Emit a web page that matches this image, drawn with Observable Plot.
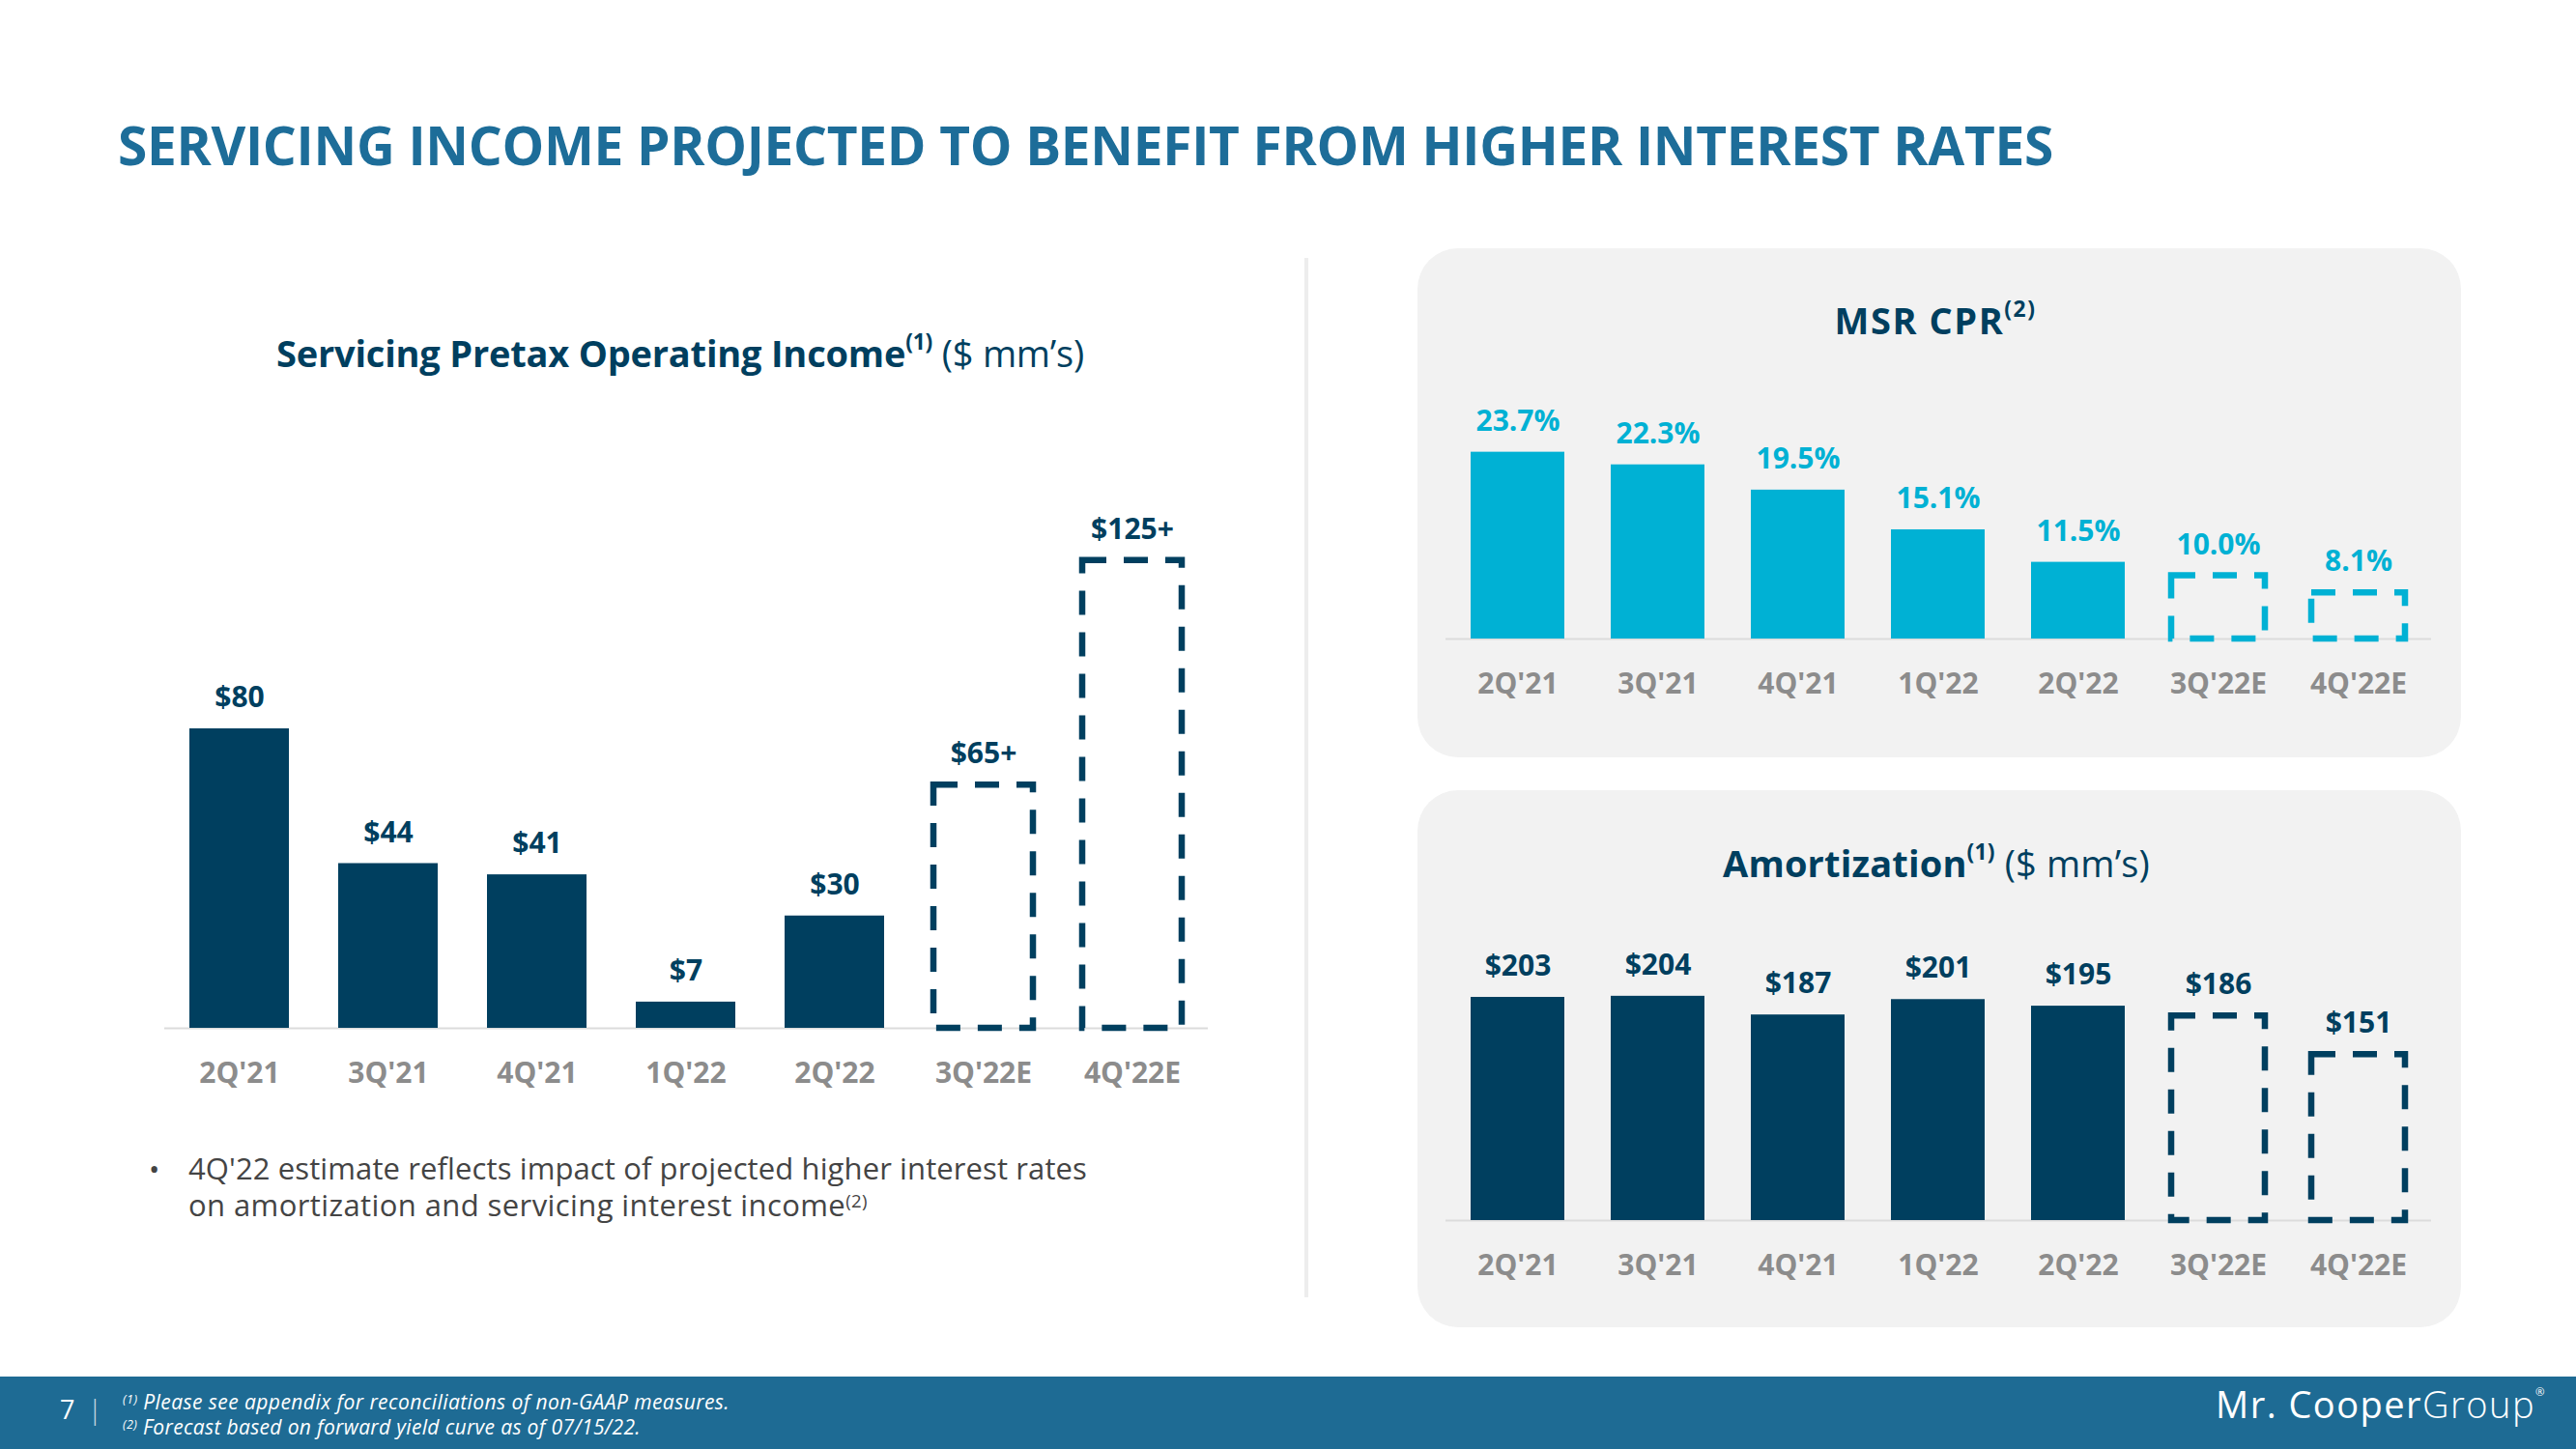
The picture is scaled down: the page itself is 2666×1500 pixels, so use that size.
<!DOCTYPE html>
<html>
<head>
<meta charset="utf-8">
<script src="https://cdn.jsdelivr.net/npm/d3@7"></script>
<script src="https://cdn.jsdelivr.net/npm/@observablehq/plot@0.6"></script>
<style>
  html, body { margin: 0; padding: 0; background: #fff; }
  #root { position: relative; width: 2666px; height: 1500px; overflow: hidden; font-family: "Open Sans", sans-serif; background: #fff; }
  .abs { position: absolute; }
  .sup { font-size: .6em; position: relative; top: -.78em; }
  .sup2 { font-size: .6em; position: relative; top: -.5em; }
  svg [aria-label="x-axis tick label"] text { fill: #8c8c8c; }
</style>
</head>
<body>
<div id="root"></div>
<script>
// ---------- data ----------
const quarters = ["2Q'21", "3Q'21", "4Q'21", "1Q'22", "2Q'22", "3Q'22E", "4Q'22E"];
const estimateFlags = [false, false, false, false, false, true, true];

const incomeValues = [80, 44, 41, 7, 30, 65, 125];
const incomeLabels = ["$80", "$44", "$41", "$7", "$30", "$65+", "$125+"];

const cprValues = [23.7, 22.3, 19.5, 15.1, 11.5, 10.0, 8.1];
const cprLabels = ["23.7%", "22.3%", "19.5%", "15.1%", "11.5%", "10.0%", "8.1%"];

const amortValues = [203, 204, 187, 201, 195, 186, 151];
const amortLabels = ["$203", "$204", "$187", "$201", "$195", "$186", "$151"];

// ---------- styles ----------
const navy = "#003F5F";
const cyan = "#00B1D4";
const titleBlue = "#1D6D99";
const footerBlue = "#1E6B94";

const root = document.getElementById("root");

function box(style) {
  const el = document.createElement("div");
  el.className = "abs";
  Object.assign(el.style, style);
  root.appendChild(el);
  return el;
}

function label(html, {x, y, size, weight = 400, color = "#000", anchor = "start", width = null, italic = false}) {
  const el = document.createElement("div");
  el.className = "abs";
  el.innerHTML = html;
  Object.assign(el.style, {
    whiteSpace: "nowrap", lineHeight: "1", fontSize: size + "px", fontWeight: weight,
    color, fontStyle: italic ? "italic" : "normal", top: (y - 0.888 * size) + "px", left: "0px"
  });
  root.appendChild(el);
  let w = el.getBoundingClientRect().width;
  if (width) {
    const n = el.textContent.length;
    el.style.letterSpacing = ((width - w) / n) + "px";
    w = el.getBoundingClientRect().width;
  }
  const left = anchor === "middle" ? x - w / 2 : anchor === "end" ? x - w : x;
  el.style.left = left + "px";
  return el;
}

function rows(values, labels) {
  return quarters.map((q, i) => ({q, v: values[i], label: labels[i], est: estimateFlags[i]}));
}

function barChart({data, color, labelColor, yDomain, width, height, mt, mr, mb, ml}) {
  const actual = data.filter(d => !d.est);
  const est = data.filter(d => d.est);
  return Plot.plot({
    width, height,
    marginTop: mt, marginRight: mr, marginBottom: mb, marginLeft: ml,
    x: {domain: quarters, paddingInner: 0.33, paddingOuter: 0.165, label: null},
    y: {domain: yDomain, clamp: true, axis: null},
    style: {background: "transparent", fontFamily: "Open Sans", overflow: "visible"},
    marks: [
      Plot.ruleY([yDomain[0]], {stroke: "#dcdcdc", strokeWidth: 2}),
      Plot.barY(actual, {x: "q", y: "v", fill: color}),
      Plot.barY(est, {x: "q", y: "v", fill: "none", stroke: color, strokeWidth: 6.5, strokeDasharray: "25,18"}),
      Plot.text(data, {x: "q", y: "v", text: "label", dy: -32, lineAnchor: "middle",
        fill: labelColor, fontSize: 30, fontWeight: 700}),
      Plot.axisX({tickSize: 0, tickPadding: 35, fontSize: 30, fontWeight: 700, color: "#8c8c8c"})
    ]
  });
}

function place(svg, left, top) {
  const holder = box({left: left + "px", top: top + "px"});
  holder.appendChild(svg);
}

// ---------- background pieces ----------
box({left: "1350px", top: "267px", width: "4px", height: "1076px", background: "#ededed"});
box({left: "1467px", top: "257px", width: "1080px", height: "527px", background: "#f2f2f2", borderRadius: "42px"});
box({left: "1467px", top: "818px", width: "1080px", height: "556px", background: "#f2f2f2", borderRadius: "42px"});
box({left: "0px", top: "1425px", width: "2666px", height: "75px", background: footerBlue});

// ---------- charts ----------
place(barChart({data: rows(incomeValues, incomeLabels), color: navy, labelColor: navy,
  yDomain: [0, 140], width: 1300, height: 760, mt: 101.5, mr: 50, mb: 116, ml: 170}), 0, 420);

place(barChart({data: rows(cprValues, cprLabels), color: cyan, labelColor: cyan,
  yDomain: [3, 25], width: 1080, height: 380, mt: 75.5, mr: 31, mb: 99, ml: 29}), 1467, 380);

place(barChart({data: rows(amortValues, amortLabels), color: navy, labelColor: navy,
  yDomain: [0, 250], width: 1080, height: 420, mt: 38.5, mr: 31, mb: 97, ml: 29}), 1467, 940);

// ---------- texts ----------
label("SERVICING INCOME PROJECTED TO BENEFIT FROM HIGHER INTEREST RATES",
  {x: 122, y: 171, size: 55, weight: 700, color: titleBlue, width: 2003});

label('<span style="font-weight:700">Servicing Pretax Operating Income</span><span class="sup" style="font-weight:700">(1)</span> ($ mm’s)',
  {x: 704, y: 380, size: 38, color: navy, anchor: "middle", width: 836});

label('<span style="font-weight:700">MSR CPR</span><span class="sup" style="font-weight:700">(2)</span>',
  {x: 2003, y: 346, size: 38, color: navy, anchor: "middle", width: 209});

label('<span style="font-weight:700">Amortization</span><span class="sup" style="font-weight:700">(1)</span> ($ mm’s)',
  {x: 2004, y: 908, size: 38, color: navy, anchor: "middle", width: 442});

label("•", {x: 154, y: 1222, size: 30, color: "#444"});
label("4Q'22 estimate reflects impact of projected higher interest rates",
  {x: 195, y: 1222, size: 31, color: "#444", width: 930});
label('on amortization and servicing interest income<span class="sup2">(2)</span>',
  {x: 195, y: 1260, size: 31, color: "#444", width: 703});

label("7", {x: 62, y: 1469, size: 27, color: "#fff"});
label("|", {x: 91, y: 1469, size: 27, color: "rgba(255,255,255,0.8)", weight: 300});
label('<span class="sup2">(1)</span> Please see appendix for reconciliations of non-GAAP measures.',
  {x: 127, y: 1460, size: 21, color: "#fff", italic: true, width: 628});
label('<span class="sup2">(2)</span> Forecast based on forward yield curve as of 07/15/22.',
  {x: 127, y: 1486, size: 21, color: "#fff", italic: true, width: 536});

label('<span style="font-weight:500">Mr. Cooper</span><span style="font-weight:300">Group</span><span class="sup" style="font-size:.3em;top:-2em">®</span>',
  {x: 2293, y: 1468, size: 38, color: "#fff", width: 342});
</script>
</body>
</html>
